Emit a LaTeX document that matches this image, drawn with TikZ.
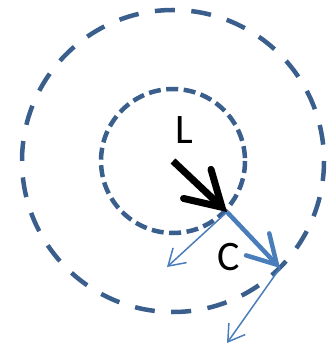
\documentclass[tikz,border=0pt]{standalone}
\usepackage{fontspec}
\setmainfont{Carlito}
\usetikzlibrary{arrows.meta}
\definecolor{ringblue}{HTML}{3A5F8C}
\definecolor{arrowblue}{HTML}{4A7EBB}
\tikzset{
  ring/.style={draw=ringblue},
  outerring/.style={ring, line width=4.5pt, dash pattern=on 20pt off 16.5pt},
  innerring/.style={ring, line width=4.5pt, dash pattern=on 12pt off 5.5pt},
  blackvec/.style={draw=black, line width=7pt, -{Straight Barb[length=34pt,width=40pt,line cap=round]}},
  bluevec/.style={draw=arrowblue, line width=4.5pt, -{Straight Barb[length=28pt,width=32pt,line cap=round]}},
  thinvec/.style={draw=arrowblue, line width=1.5pt, -{Straight Barb[length=16pt,width=20pt]}},
  lbl/.style={font=\fontsize{42}{42}\selectfont, inner sep=0pt}
}
\begin{document}
\begin{tikzpicture}[x=1pt,y=-1pt]
\useasboundingbox (0,0) rectangle (333,344);
\coordinate (O) at (173,161);
\coordinate (A) at (227,212);
\coordinate (B) at (280,268);
\coordinate (T1) at (167,267);
\coordinate (T2) at (227,343);
\draw[outerring] (O) circle[radius=151];
\draw[innerring] (O) circle[radius=72];
\draw[thinvec] (A) -- (T1);
\draw[thinvec] (B) -- (T2);
\draw[bluevec] (A) -- (B);
\draw[blackvec] (O) -- (A);
\node[lbl] (L) at (184,130) {L};
\node[lbl] (C) at (228.5,257) {C};
\end{tikzpicture}
\end{document}
